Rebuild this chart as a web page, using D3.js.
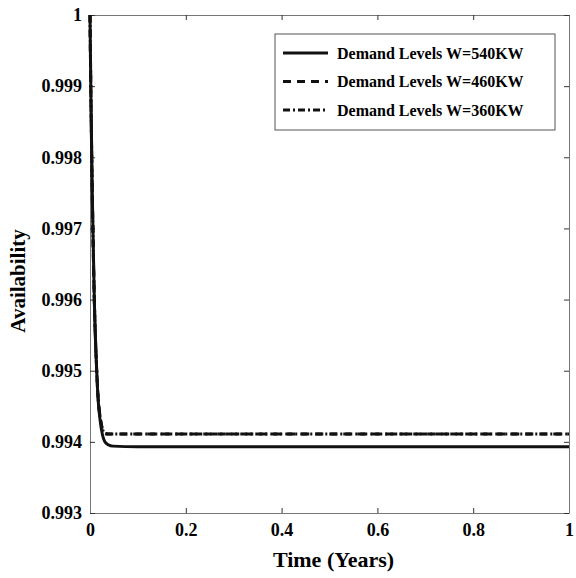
<!DOCTYPE html>
<html>
<head>
<meta charset="utf-8">
<script src="https://cdn.jsdelivr.net/npm/d3@7"></script>
<style>
  body { margin: 0; background: #fff; }
  text { font-family: "Liberation Serif", "Times New Roman", serif; font-weight: bold; fill: #000; }
</style>
</head>
<body>
<div id="chart"></div>
<script>
// values
const times = [0, 0.002, 0.005, 0.009, 0.014, 0.017, 0.021, 0.026, 0.031, 0.038, 0.048, 0.1, 0.2, 0.3, 0.4, 0.5, 0.6, 0.7, 0.8, 0.9, 1];
const w540 = [1, 0.9988, 0.9974, 0.9960, 0.9950, 0.99459, 0.99431, 0.99410, 0.99400, 0.99396, 0.99394, 0.99393, 0.99393, 0.99393, 0.99393, 0.99393, 0.99393, 0.99393, 0.99393, 0.99393, 0.99393];
const w460 = [1, 0.9988, 0.9974, 0.9960, 0.9950, 0.99462, 0.99436, 0.99418, 0.99412, 0.99411, 0.99411, 0.99411, 0.99411, 0.99411, 0.99411, 0.99411, 0.99411, 0.99411, 0.99411, 0.99411, 0.99411];
const w360 = [1, 0.9988, 0.9974, 0.9960, 0.9950, 0.99462, 0.99436, 0.99418, 0.99412, 0.99411, 0.99411, 0.99411, 0.99411, 0.99411, 0.99411, 0.99411, 0.99411, 0.99411, 0.99411, 0.99411, 0.99411];
const seriesNames = ["Demand Levels W=540KW", "Demand Levels W=460KW", "Demand Levels W=360KW"];
const xTicks = [0, 0.2, 0.4, 0.6, 0.8, 1];
const yTicks = [0.993, 0.994, 0.995, 0.996, 0.997, 0.998, 0.999, 1];

const margin = { top: 15, right: 7, bottom: 65, left: 90 };
const width = 576 - margin.left - margin.right;
const height = 578 - margin.top - margin.bottom;

const svg = d3.select('#chart')
  .append('svg')
  .attr('width', 576)
  .attr('height', 578)
  .append('g')
  .attr('transform', `translate(${margin.left}, ${margin.top})`);

const x = d3.scaleLinear().domain([0, 1]).range([0, width]);
const y = d3.scaleLinear().domain([0.993, 1]).range([height, 0]);

const fmtX = d => (d === 0 || d === 1) ? String(d) : d3.format('.1f')(d);
const fmtY = d => d === 1 ? '1' : d3.format('.3f')(d);

const axisColor = '#777';

function styleAxis(g) {
  g.selectAll('.domain').attr('stroke', axisColor);
  g.selectAll('.tick line').attr('stroke', '#333');
  g.selectAll('.tick text').attr('font-size', 18).attr('font-family', '"Liberation Serif", serif').attr('font-weight', 'bold');
}

svg.append('g')
  .attr('transform', `translate(0, ${height})`)
  .call(d3.axisBottom(x).tickValues(xTicks).tickFormat(fmtX).tickSizeInner(-5).tickSizeOuter(0).tickPadding(10))
  .call(styleAxis);

svg.append('g')
  .call(d3.axisTop(x).tickValues(xTicks).tickFormat('').tickSizeInner(-5).tickSizeOuter(0))
  .call(styleAxis);

svg.append('g')
  .call(d3.axisLeft(y).tickValues(yTicks).tickFormat(fmtY).tickSizeInner(-5).tickSizeOuter(0).tickPadding(8))
  .call(styleAxis);

svg.append('g')
  .attr('transform', `translate(${width}, 0)`)
  .call(d3.axisRight(y).tickValues(yTicks).tickFormat('').tickSizeInner(-5).tickSizeOuter(0))
  .call(styleAxis);

svg.append('clipPath').attr('id', 'clip')
  .append('rect').attr('x', -2).attr('y', -2).attr('width', width + 2).attr('height', height + 2);

const line = d3.line()
  .x((d, i) => x(times[i]))
  .y(d => y(d))
  .curve(d3.curveMonotoneX);

const styles = [
  { data: w540, dash: null },
  { data: w460, dash: '8,6' },
  { data: w360, dash: '7,3,2,3' }
];

const plot = svg.append('g').attr('clip-path', 'url(#clip)');
styles.slice().reverse().forEach(s => {
  plot.append('path')
    .datum(s.data)
    .attr('fill', 'none')
    .attr('stroke', '#111')
    .attr('stroke-width', 3)
    .attr('stroke-dasharray', s.dash)
    .attr('d', line);
});

// axis titles
svg.append('text')
  .attr('x', width / 2 + 4)
  .attr('y', height + 54)
  .attr('text-anchor', 'middle')
  .attr('font-size', 22)
  .text('Time (Years)');

svg.append('text')
  .attr('transform', `translate(${-65}, ${height / 2 + 17}) rotate(-90)`)
  .attr('text-anchor', 'middle')
  .attr('font-size', 21)
  .text('Availability');

// legend
const legend = svg.append('g').attr('transform', `translate(${275 - margin.left}, ${34 - margin.top})`);
legend.append('rect')
  .attr('width', 280).attr('height', 96)
  .attr('fill', '#fff').attr('stroke', '#555').attr('stroke-width', 1);

styles.forEach((s, i) => {
  const ly = 19 + i * 28.5;
  legend.append('line')
    .attr('x1', 8).attr('x2', 53)
    .attr('y1', ly).attr('y2', ly)
    .attr('stroke', '#111').attr('stroke-width', 3)
    .attr('stroke-dasharray', s.dash);
  legend.append('text')
    .attr('x', 62).attr('y', ly + 5.5)
    .attr('font-size', 16)
    .text(seriesNames[i]);
});
</script>
</body>
</html>
